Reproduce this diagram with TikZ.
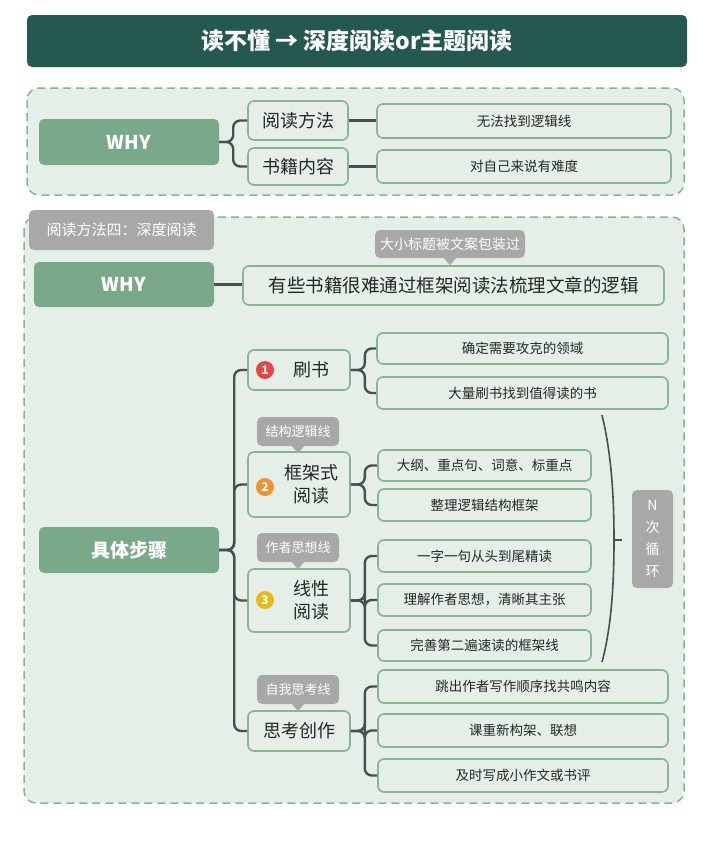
\documentclass[tikz,border=0pt]{standalone}
\usepackage{fontspec}
\setmainfont{Noto Sans CJK SC}
\definecolor{dk}{HTML}{25594F}
\definecolor{bg}{HTML}{E5EFE8}
\definecolor{gb}{HTML}{86B596}
\definecolor{gf}{HTML}{79A98A}
\definecolor{tg}{HTML}{A8A8A8}
\definecolor{ln}{HTML}{4A4F4C}
\tikzset{
 bx/.style={draw=gb,line width=1.6pt,fill=bg,rounded corners=6pt,inner sep=0pt,align=center,text=black!85},
 mainbx/.style={fill=gf,rounded corners=5pt,inner sep=0pt,text=white,font=\bfseries\fontsize{19}{20}\selectfont},
 tagbx/.style={fill=tg,rounded corners=5pt,inner sep=0pt,align=center,text=white,font=\fontsize{13}{14}\selectfont},
 conn/.style={draw=ln,line width=2.4pt,rounded corners=7pt},
 dbox/.style={draw=gb,line width=1.5pt,dash pattern=on 8pt off 5pt,fill=bg,rounded corners=12pt},
 leaf/.style={bx,font=\fontsize{13.5}{15}\selectfont},
 mid/.style={bx,font=\fontsize{18}{23}\selectfont},
}
\newcommand{\bx}[7]{\node[#6,minimum width={(#4-#2)*1pt},minimum height={(#5-#3)*1pt}] (#1) at ({(#2+#4)/2},{(#3+#5)/2}) {#7};}
\newcommand{\ptr}[1]{\fill[tg] ([xshift=-6pt]#1.south) -- ([xshift=6pt]#1.south) -- ([yshift=-7pt]#1.south) -- cycle;}
\newcommand{\num}[4]{\node[circle,fill=#2,text=white,inner sep=0pt,minimum size=18pt,font=\bfseries\fontsize{12}{12}\selectfont] (#1) at (#3) {#4};}
\begin{document}
\begin{tikzpicture}[x=1pt,y=-1pt]
\useasboundingbox (0,0) rectangle (724,844);
\fill[white] (0,0) rectangle (724,844);
\bx{title}{27}{15}{687}{67}{fill=dk,rounded corners=5pt,inner sep=0pt,text=white,font=\bfseries\fontsize{23}{26}\selectfont}{读不懂 → 深度阅读or主题阅读}
\draw[dbox] (27,88) rectangle (684,195);
\bx{why1}{39}{119}{219}{165}{mainbx}{WHY}
\bx{m1}{248}{101}{348}{140}{mid}{阅读方法}
\bx{m2}{248}{148}{348}{185}{mid}{书籍内容}
\bx{l1}{377}{104}{671}{138}{leaf}{无法找到逻辑线}
\bx{l2}{377}{150}{671}{183}{leaf}{对自己来说有难度}
\draw[conn] (why1.east) -- ++(14,0) |- (m1.west);
\draw[conn] (why1.east) -- ++(14,0) |- (m2.west);
\draw[conn] (m1.east) -- (m1.east -| l1.west);
\draw[conn] (m2.east) -- (m2.east -| l2.west);
\draw[dbox] (24,217) rectangle (684,803);
\bx{tag0}{29}{210}{214}{250}{tagbx,font=\fontsize{15}{16}\selectfont}{阅读方法四：深度阅读}
\bx{why2}{34}{262}{214}{307}{mainbx}{WHY}
\bx{long}{243}{266}{664}{305}{bx,font=\fontsize{18.5}{20}\selectfont}{有些书籍很难通过框架阅读法梳理文章的逻辑}
\bx{tagl}{375}{230}{525}{258}{tagbx,font=\fontsize{14}{15}\selectfont}{大小标题被文案包装过}
\ptr{tagl}
\draw[conn] (why2.east) -- (why2.east -| long.west);
\bx{steps}{39}{527}{219}{573}{mainbx}{具体步骤}
\bx{s1}{248}{350}{350}{390}{mid}{\hspace*{24pt}刷书}
\bx{s2}{248}{452}{350}{517}{mid}{\hspace*{24pt}框架式\\\hspace*{24pt}阅读}
\bx{s3}{248}{569}{350}{632}{mid}{\hspace*{24pt}线性\\\hspace*{24pt}阅读}
\bx{s4}{248}{711}{350}{751}{mid}{思考创作}
\num{n1}{red!70!white!90!black}{265,370}{1}
\num{n2}{orange!80!white!95!black}{265,487}{2}
\num{n3}{yellow!60!orange!90!black}{265,600}{3}
\bx{t2}{257}{417}{339}{446}{tagbx}{结构逻辑线}\ptr{t2}
\bx{t3}{257}{533}{339}{562}{tagbx}{作者思想线}\ptr{t3}
\bx{t4}{257}{675}{339}{704}{tagbx}{自我思考线}\ptr{t4}
\foreach \s in {s1,s2,s3,s4}
  \draw[conn] (steps.east) -- ++(15,0) |- (\s.west);
\bx{a1}{377}{333}{668}{364}{leaf}{确定需要攻克的领域}
\bx{a2}{377}{377}{668}{409}{leaf}{大量刷书找到值得读的书}
\bx{b1}{378}{450}{591}{481}{leaf}{大纲、重点句、词意、标重点}
\bx{b2}{378}{489}{591}{521}{leaf}{整理逻辑结构框架}
\bx{c1}{378}{540}{591}{572}{leaf}{一字一句从头到尾精读}
\bx{c2}{378}{584}{591}{616}{leaf}{理解作者思想，清晰其主张}
\bx{c3}{378}{630}{591}{661}{leaf}{完善第二遍速读的框架线}
\bx{d1}{378}{670}{668}{703}{leaf}{跳出作者写作顺序找共鸣内容}
\bx{d2}{378}{714}{668}{747}{leaf}{课重新构架、联想}
\bx{d3}{378}{759}{668}{792}{leaf}{及时写成小作文或书评}
\foreach \p/\c in {s1/a1,s1/a2,s2/b1,s2/b2,s3/c1,s3/c2,s3/c3,s4/d1,s4/d2,s4/d3}
  \draw[conn] (\p.east) -- ++(14,0) |- (\c.west);
\draw[ln,line width=1.6pt] (602,415) .. controls (613,460) and (614,510) .. (614,540) .. controls (614,580) and (612,625) .. (602,662);
\draw[ln,line width=1.6pt] (614,540) -- (622,540);
\bx{nx}{632}{490}{673}{588}{tagbx,font=\fontsize{14}{22}\selectfont}{N\\次\\循\\环}
\end{tikzpicture}
\end{document}
